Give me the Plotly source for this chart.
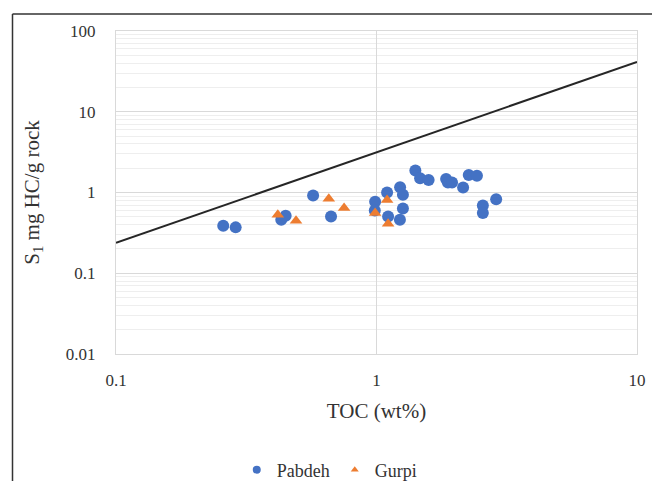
import plotly.graph_objects as go

# Pabdeh samples (TOC wt%, S1 mg HC/g rock)
pabdeh_toc = [0.258, 0.288, 0.431, 0.448, 0.571, 0.669, 0.988, 0.985, 1.098, 1.108,
              1.232, 1.263, 1.263, 1.23, 1.41, 1.47, 1.585, 1.85, 1.88, 1.95,
              2.15, 2.26, 2.43, 2.56, 2.56, 2.88]
pabdeh_s1 = [0.388, 0.370, 0.46, 0.515, 0.918, 0.506, 0.767, 0.60, 1.0, 0.506,
             1.16, 0.935, 0.634, 0.46, 1.87, 1.50, 1.43, 1.47, 1.33, 1.33,
             1.15, 1.65, 1.61, 0.69, 0.556, 0.827]

# Gurpi samples
gurpi_toc = [0.418, 0.491, 0.656, 0.751, 0.988, 1.098, 1.108]
gurpi_s1 = [0.53, 0.447, 0.835, 0.641, 0.556, 0.81, 0.41]

# Reference line endpoints
line_toc = [0.1, 10]
line_s1 = [0.238, 41.5]

BLUE = "#4472C4"
ORANGE = "#ED7D31"
TXT = "#333333"
FONT = "Liberation Serif"

fig = go.Figure()
fig.add_trace(go.Scatter(x=line_toc, y=line_s1, mode="lines",
                         line=dict(color="#262626", width=2), showlegend=False,
                         hoverinfo="skip"))
fig.add_trace(go.Scatter(x=pabdeh_toc, y=pabdeh_s1, mode="markers", name="Pabdeh",
                         showlegend=False,
                         marker=dict(symbol="circle", size=12, color=BLUE)))
fig.add_trace(go.Scatter(x=gurpi_toc, y=gurpi_s1, mode="markers", name="Gurpi",
                         showlegend=False,
                         marker=dict(symbol="triangle-up", size=11, color=ORANGE)))
fig.add_trace(go.Scatter(x=[None], y=[None], mode="markers", name="Pabdeh",
                         marker=dict(symbol="circle", size=8, color=BLUE)))
fig.add_trace(go.Scatter(x=[None], y=[None], mode="markers", name="Gurpi",
                         marker=dict(symbol="triangle-up", size=7, color=ORANGE)))

fig.update_layout(
    width=652, height=481,
    margin=dict(l=116, r=15, t=31, b=127, autoexpand=False),
    paper_bgcolor="white", plot_bgcolor="white",
    font=dict(family=FONT, size=17, color=TXT),
    showlegend=True,
    legend=dict(orientation="h", xref="container", yref="container",
                x=0.505, xanchor="center", y=0.023, yanchor="middle",
                font=dict(family=FONT, size=18, color=TXT),
                itemwidth=30, bgcolor="rgba(0,0,0,0)"),
    xaxis=dict(type="log", range=[-1, 1], dtick=1, automargin=False,
               showgrid=True, gridcolor="#d9d9d9", gridwidth=1,
               showline=True, linecolor="#d9d9d9", mirror=True,
               ticks="", zeroline=False, ticklabelstandoff=11,
               tickfont=dict(family=FONT, size=17, color=TXT),
               title=dict(text="TOC (wt%)", font=dict(family=FONT, size=21, color=TXT),
                          standoff=13)),
    yaxis=dict(type="log", range=[-2, 2], dtick=1, automargin=False,
               showgrid=True, gridcolor="#d9d9d9", gridwidth=1,
               showline=True, linecolor="#d9d9d9", mirror=True,
               ticks="", zeroline=False, ticklabelstandoff=16,
               tickfont=dict(family=FONT, size=17, color=TXT),
               minor=dict(showgrid=True, gridcolor="#eeeeee", gridwidth=1, dtick="D1"),
               title=dict(text="S<sub>1</sub> mg HC/g rock",
                          font=dict(family=FONT, size=21, color=TXT),
                          standoff=20)),
)

L, T = 116, 31
pw, ph = 652 - 116 - 15, 481 - 31 - 127
def px(xp):
    return (xp - L) / pw
def py(yp):
    return (T + ph - yp) / ph
fig.add_shape(type="line", xref="paper", yref="paper",
              x0=px(12.5), y0=py(14), x1=px(660), y1=py(14),
              line=dict(color="#333333", width=1.5))
fig.add_shape(type="line", xref="paper", yref="paper",
              x0=px(12.5), y0=py(14), x1=px(12.5), y1=py(490),
              line=dict(color="#333333", width=1.5))

fig.write_html("out.html")
